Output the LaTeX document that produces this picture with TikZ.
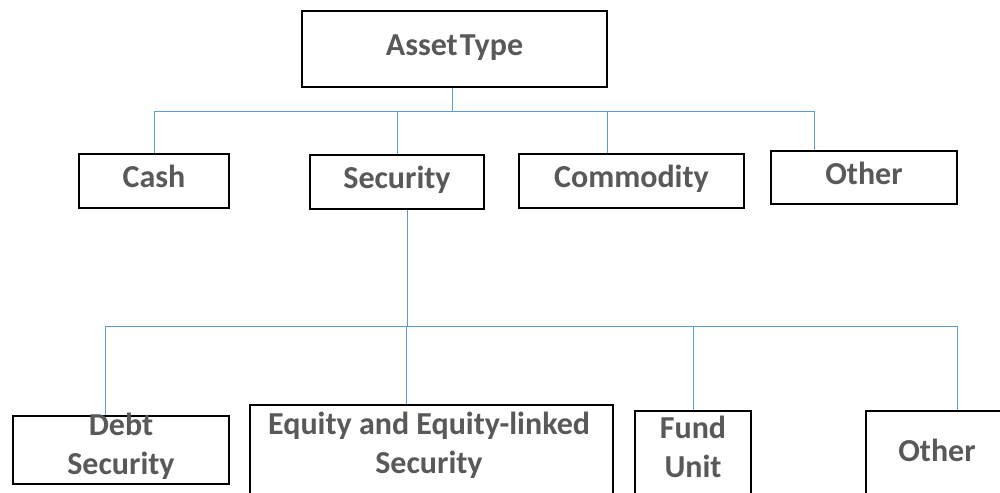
\documentclass[tikz,border=0pt]{standalone}
\usepackage{fontspec}
\setmainfont{Carlito}
\usetikzlibrary{calc}
\definecolor{linkblue}{RGB}{91,155,213}
\definecolor{txtgray}{RGB}{89,89,89}
\tikzset{
  box/.style={draw=black, line width=1.6pt, rectangle, inner sep=0pt,
    text height=21pt, text depth=8pt,
    font=\fontsize{32}{39}\selectfont\bfseries, text=txtgray},
  lbl/.style={inner sep=0pt, align=center,
    font=\fontsize{32}{39}\selectfont\bfseries, text=txtgray},
  link/.style={draw=linkblue, line width=0.8pt}
}

\begin{document}
\begin{tikzpicture}[x=1pt,y=-1pt]
\useasboundingbox (0,0) rectangle (1000,492);
\clip (0,0) rectangle (1000,492);
\fill[white] (0,0) rectangle (1000,492);

% top level
\node[box, minimum width=305, minimum height=76] (asset) at (454.5,49) {Asset\kern2pt Type};

% second level
\node[box, minimum width=150, minimum height=54] (cash) at (154,181) {Cash};
\node[box, minimum width=174, minimum height=54] (sec) at (397,182) {Security};
\node[box, minimum width=225, minimum height=54] (comm) at (631.5,181) {Commodity};
\node[box, minimum width=186, minimum height=53] (other) at (864,177.5) {Other};

% third level
\node[box, minimum width=216, minimum height=68] (debt) at (121,450) {};
\node[box, minimum width=363, minimum height=105] (equity) at (431.5,457.5) {};
\node[box, minimum width=116, minimum height=99] (fund) at (693,460.5) {};
\node[box, minimum width=144, minimum height=99] (othersec) at (938,460.5) {};
\node[lbl] (debtlbl) at (121,446) {Debt\\Security};
\node[lbl] (equitylbl) at (429,445) {Equity and Equity-linked\\Security};
\node[lbl] (fundlbl) at (693,447) {Fund\\Unit};
\node[lbl] (otherseclbl) at (937,450) {Other};

% connectors
\coordinate (busa) at (452,112);
\coordinate (busb) at (407,326);
\draw[link] (asset.south -| busa) -- (busa);
\draw[link] (cash.north) |- ($(other.north)+(-50,-39)$) -- ($(other.north)+(-50,0)$);
\draw[link] (sec.north) -- (sec.north |- busa);
\draw[link] ($(comm.north)+(-24.5,0)$) -- ($(comm.north |- busa)+(-24.5,0)$);
\draw[link] ($(sec.south)+(10,0)$) -- (busb);
\draw[link] ($(debt.north)+(-16,0)$) |- ($(othersec.north |- busb)+(19,0)$) -- ($(othersec.north)+(19,0)$);
\draw[link] ($(equity.north)+(-25.5,0)$) -- ($(equity.north |- busb)+(-25.5,0)$);
\draw[link] (fund.north) -- (fund.north |- busb);
\end{tikzpicture}
\end{document}
